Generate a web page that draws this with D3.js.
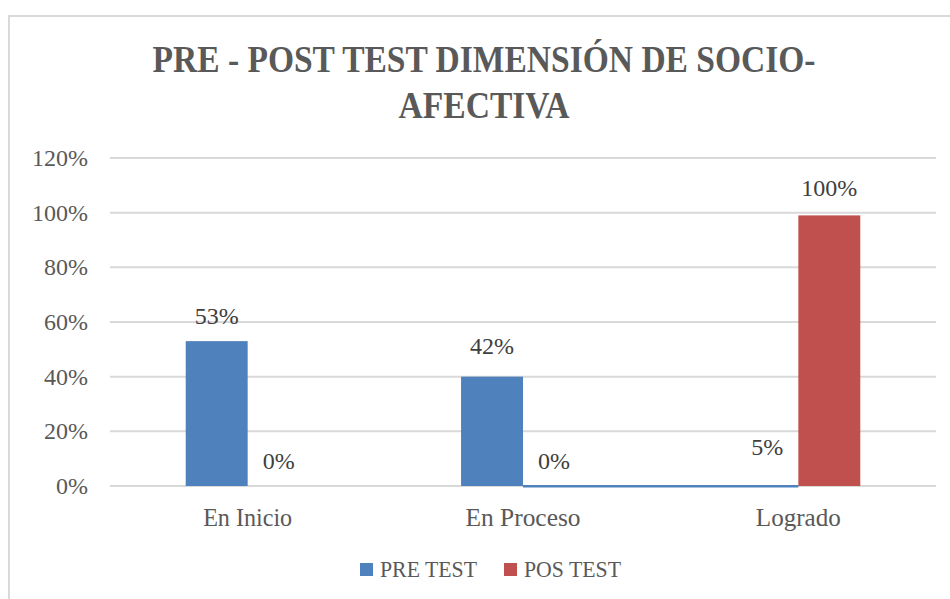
<!DOCTYPE html>
<html>
<head>
<meta charset="utf-8">
<script src="https://cdnjs.cloudflare.com/ajax/libs/d3/7.8.5/d3.min.js"></script>
<style>
  body { margin: 0; background: #fff; }
  svg { display: block; }
</style>
</head>
<body>
<div id="chart"></div>
<script>
// values
var categories = ["En Inicio", "En Proceso", "Logrado"]
var series = ["PRE TEST", "POS TEST"]
var preValues = [0.53, 0.42, 0.05]      // data labels
var posValues = [0, 0, 1.00]
var preBars = [0.53, 0.40, 0]           // bar heights as drawn in the picture
var posBars = [0, 0, 0.99]
var yTicks = [0, 0.2, 0.4, 0.6, 0.8, 1.0, 1.2]
var titleLines = ["PRE - POST TEST DIMENSIÓN DE SOCIO-", "AFECTIVA"]

var colors = { "PRE TEST": "#4F81BD", "POS TEST": "#C0504D" }
var W = 950, H = 599
var serif = "'Liberation Serif', 'DejaVu Serif', serif"

var svg = d3.select("#chart").append("svg").attr("width", W).attr("height", H)

// chart frame
svg.append("rect").attr("x", 9).attr("y", 16).attr("width", 980).attr("height", 640)
    .attr("fill", "#fff").attr("stroke", "#d9d9d9").attr("stroke-width", 2)

// title
var titleWidths = [663, 171]
svg.selectAll("text.title").data(titleLines).enter().append("text")
    .attr("class", "title")
    .attr("x", 484)
    .attr("y", function (d, i) { return 72 + i * 46 })
    .attr("text-anchor", "middle")
    .attr("font-family", serif).attr("font-weight", "bold").attr("font-size", 38)
    .attr("fill", "#595959")
    .attr("textLength", function (d, i) { return titleWidths[i] })
    .attr("lengthAdjust", "spacingAndGlyphs")
    .text(function (d) { return d })

var x0 = d3.scaleBand().domain(categories).range([110, 936]).paddingInner(0.55).paddingOuter(0.275)
var x1 = d3.scaleBand().domain(series).range([0, x0.bandwidth()])
var y = d3.scaleLinear().domain([0, 1.2]).range([486, 158])

// gridlines
svg.selectAll("line.grid").data(yTicks).enter().append("line")
    .attr("class", "grid")
    .attr("x1", 110).attr("x2", 936)
    .attr("y1", function (d) { return y(d) }).attr("y2", function (d) { return y(d) })
    .attr("stroke", "#d9d9d9").attr("stroke-width", 2)

// y tick labels
svg.selectAll("text.ytick").data(yTicks).enter().append("text")
    .attr("class", "ytick")
    .attr("x", 88).attr("y", function (d) { return y(d) + 8 })
    .attr("text-anchor", "end")
    .attr("font-family", serif).attr("font-size", 24).attr("fill", "#595959")
    .text(function (d) { return Math.round(d * 100) + "%" })

var rows = []
categories.forEach(function (c, i) {
    rows.push({ cat: c, s: "PRE TEST", v: preValues[i], bar: preBars[i] })
    rows.push({ cat: c, s: "POS TEST", v: posValues[i], bar: posBars[i] })
})

// thin blue segment along the base, as in the picture
svg.append("rect")
    .attr("x", x0("En Proceso") + x1("PRE TEST") + x1.bandwidth())
    .attr("y", y(0) - 1)
    .attr("width", x0("Logrado") + x1("POS TEST") - (x0("En Proceso") + x1("PRE TEST") + x1.bandwidth()))
    .attr("height", 2.5)
    .attr("fill", colors["PRE TEST"])

svg.selectAll("rect.bar").data(rows.filter(function (d) { return d.bar > 0 })).enter().append("rect")
    .attr("class", "bar")
    .attr("x", function (d) { return x0(d.cat) + x1(d.s) })
    .attr("y", function (d) { return y(d.bar) })
    .attr("width", x1.bandwidth())
    .attr("height", function (d) { return y(0) - y(d.bar) })
    .attr("fill", function (d) { return colors[d.s] })

// data labels
svg.selectAll("text.lbl").data(rows).enter().append("text")
    .attr("class", "lbl")
    .attr("x", function (d) { return x0(d.cat) + x1(d.s) + x1.bandwidth() / 2 })
    .attr("y", function (d) { return y(d.v) - 17 })
    .attr("text-anchor", "middle")
    .attr("font-family", serif).attr("font-size", 24).attr("fill", "#404040")
    .text(function (d) { return Math.round(d.v * 100) + "%" })

// category labels
var catWidths = [89, 115, 85]
svg.selectAll("text.cat").data(categories).enter().append("text")
    .attr("class", "cat")
    .attr("x", function (d) { return x0(d) + x0.bandwidth() / 2 })
    .attr("y", 526)
    .attr("text-anchor", "middle")
    .attr("font-family", serif).attr("font-size", 25).attr("fill", "#595959")
    .attr("textLength", function (d, i) { return catWidths[i] })
    .attr("lengthAdjust", "spacingAndGlyphs")
    .text(function (d) { return d })

// legend
var legend = svg.append("g").attr("transform", "translate(360,563)")
var items = legend.selectAll("g").data(series).enter().append("g")
    .attr("transform", function (d, i) { return "translate(" + (i * 144) + ",0)" })
items.append("rect").attr("width", 13).attr("height", 13)
    .attr("fill", function (d) { return colors[d] })
items.append("text").attr("x", 20).attr("y", 14)
    .attr("font-family", serif).attr("font-size", 24).attr("fill", "#595959")
    .attr("textLength", 97).attr("lengthAdjust", "spacingAndGlyphs")
    .text(function (d) { return d })
</script>
</body>
</html>
